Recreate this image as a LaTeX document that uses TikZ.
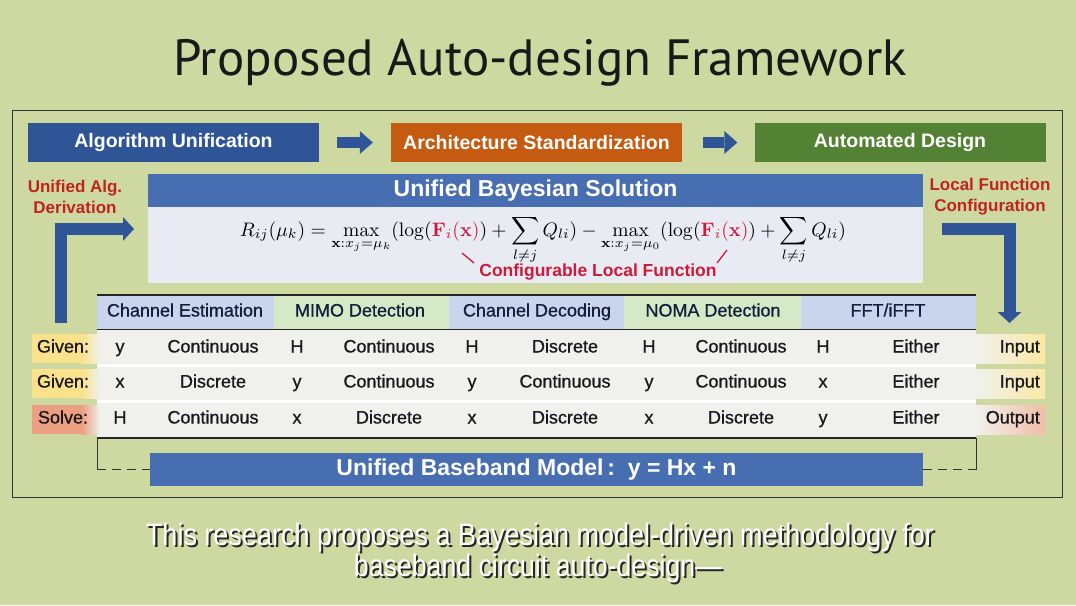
\documentclass[tikz,border=0pt]{standalone}
\usepackage[no-math]{fontspec}
\setmainfont{Liberation Sans}
\newfontfamily\titlefont{PT Sans}
\newfontfamily\medfont[FakeBold=0.8]{Liberation Sans}
\usepackage{graphicx}
\usetikzlibrary{arrows.meta,calc}
\definecolor{bg}{RGB}{206,216,161}
\definecolor{dblue}{RGB}{47,85,151}
\definecolor{orng}{RGB}{197,90,17}
\definecolor{grn}{RGB}{84,130,53}
\definecolor{mblue}{RGB}{72,110,178}
\definecolor{lgray}{RGB}{232,236,242}
\definecolor{hblue}{RGB}{201,213,236}
\definecolor{hgreen}{RGB}{214,233,199}
\definecolor{rowc}{RGB}{240,241,236}
\definecolor{ylw}{RGB}{250,226,140}
\definecolor{slm}{RGB}{236,160,130}
\definecolor{redt}{RGB}{192,36,30}
\definecolor{crim}{RGB}{205,25,60}
\definecolor{txt}{RGB}{25,25,30}
\definecolor{hdtxt}{RGB}{20,30,60}
\begin{document}
\begin{tikzpicture}[x=1pt,y=-1pt,
  topbox/.style={minimum width=291pt,minimum height=39pt,inner sep=0pt,text=white,font=\fontsize{19.5}{22}\selectfont\bfseries},
  bluebar/.style={fill=mblue,minimum width=775pt,inner sep=0pt,text=white,font=\fontsize{23}{26}\selectfont\bfseries},
  fatarrow/.style={draw=dblue,line width=11pt,-{Triangle[width=23pt,length=13pt,line width=0pt]}},
  elbow/.style={draw=dblue,line width=12pt,line join=miter,-{Triangle[width=24pt,length=11pt,line width=0pt]}},
  redlab/.style={text=redt,align=center,font=\fontsize{17}{21}\selectfont\bfseries},
  hdr/.style={text=hdtxt,text height=13pt,text depth=4pt,inner sep=0pt,font=\medfont\fontsize{18}{21}\selectfont},
  cell/.style={text=txt,text height=13pt,text depth=4pt,inner sep=0pt,font=\medfont\fontsize{18}{21}\selectfont},
  lab/.style={text=txt,text height=13pt,text depth=4pt,inner sep=0pt,font=\medfont\fontsize{18}{21}\selectfont},
  frameline/.style={draw=black!85,line width=1.1pt},
  capt/.style={text=white,font=\fontsize{31}{34}\selectfont},
  captsh/.style={text=black!85,font=\fontsize{31}{34}\selectfont}]
\useasboundingbox (0,0) rectangle (1076,605);
\fill[bg] (0,0) rectangle (1076,605);

% title
\node[font=\titlefont\fontsize{51}{58}\selectfont,text=black!90] (title) at (540,63) {Proposed Auto-design Framework};

% outer frame
\draw[black!80,line width=1pt] (12,110) rectangle (1062,497);

% top boxes
\node[topbox,fill=dblue] (alg) at (173.5,142.5) {Algorithm Unification};
\node[topbox,fill=orng] (arch) at (536.5,142.5) {Architecture Standardization};
\node[topbox,fill=grn] (auto) at (900,142.5) {Automated Design};
\draw[fatarrow,shorten <=18pt,shorten >=18pt] (alg) -- (arch);
\draw[fatarrow,shorten <=21pt,shorten >=17pt] (arch) -- (auto);

% Bayesian solution
\node[bluebar,minimum height=33pt] (bay) at (535.5,190.5) {Unified Bayesian Solution};
\node[fill=lgray,minimum width=775pt,minimum height=76pt,inner sep=0pt] (fbox) at (535.5,245) {};
\node[anchor=base,inner sep=0pt] (formula) at (543,236) {\resizebox{606pt}{!}{$\displaystyle R_{ij}(\mu_k)=\max_{\mathbf{x}:x_j=\mu_k}(\log(\textcolor{crim}{\mathbf{F}_i(\mathbf{x})})+\sum_{l\neq j}Q_{li})-\max_{\mathbf{x}:x_j=\mu_0}(\log(\textcolor{crim}{\mathbf{F}_i(\mathbf{x})})+\sum_{l\neq j}Q_{li})$}};
\node[text=crim,font=\fontsize{17.5}{20}\selectfont\bfseries,inner sep=0pt] (clf) at (598,272) {Configurable Local Function};
\coordinate (fl) at (462,253);
\coordinate (fr) at (727,250);
\draw[crim,line width=1.3pt] (fl) -- (474,263);
\draw[crim,line width=1.3pt] (fr) -- (717,263);

% side labels
\node[redlab] (ual) at (75,197) {Unified Alg.\\Derivation};
\node[redlab] (lfc) at (990,197) {Local Function\\Configuration};
\coordinate (lstart) at (60.5,323);
\coordinate (lend) at (134,229);
\draw[elbow] (lstart) |- (lend);
\coordinate (rstart) at (942,229);
\coordinate (rend) at (1009.5,323);
\draw[elbow] (rstart) -| (rend);

% table header
\fill[hblue] (97,295) rectangle (274,329);
\fill[hgreen] (274,295) rectangle (449,329);
\fill[hblue] (449,295) rectangle (624,329);
\fill[hgreen] (624,295) rectangle (801,329);
\fill[hblue] (801,295) rectangle (976,329);
\node[hdr] (h1) at (185,312) {Channel Estimation};
\node[hdr] (h2) at (360,312) {MIMO Detection};
\node[hdr] (h3) at (537,312) {Channel Decoding};
\node[hdr] (h4) at (713,312) {NOMA Detection};
\node[hdr] (h5) at (888,312) {FFT/iFFT};
% rows
\fill[rowc] (97,330) rectangle (976,437);
\draw[white,line width=3pt] (97,365.5) -- (976,365.5);
\draw[white,line width=3pt] (97,401) -- (976,401);
\coordinate (tl) at (97,295);
\coordinate (tr) at (976,295);
\coordinate (ml) at (97,329.5);
\coordinate (mr) at (976,329.5);
\coordinate (bl) at (97,438);
\coordinate (br) at (976,438);
\draw[frameline] (tl) -- (tr);
\draw[frameline] (ml) -- (mr);
\draw[frameline] (bl) -- (br);

% row labels
\fill[ylw] (32,334) rectangle (82,363);
\shade[left color=ylw,right color=rowc] (82,334) rectangle (100,363);
\fill[ylw] (32,369) rectangle (82,398);
\shade[left color=ylw,right color=rowc] (82,369) rectangle (100,398);
\fill[slm] (32,405) rectangle (82,434);
\shade[left color=slm,right color=rowc] (82,405) rectangle (100,434);
\shade[left color=rowc,right color=ylw!80!white] (976,334) rectangle (1045,363);
\shade[left color=rowc,right color=ylw!80!white] (976,369) rectangle (1045,398);
\shade[left color=rowc,right color=slm!70!white] (976,405) rectangle (1045,434);
\node[lab] (g1) at (63,348) {Given:};
\node[lab] (g2) at (63,383) {Given:};
\node[lab] (s3) at (63,419) {Solve:};
\node[lab,anchor=east] (i1) at (1040,348) {Input};
\node[lab,anchor=east] (i2) at (1040,383) {Input};
\node[lab,anchor=east] (o3) at (1040,419) {Output};

% cells
\foreach \r/\yy/\a/\b/\c/\d/\e/\f/\g/\h/\i/\j in {
  1/348/y/Continuous/H/Continuous/H/Discrete/H/Continuous/H/Either,
  2/383/x/Discrete/y/Continuous/y/Continuous/y/Continuous/x/Either,
  3/419/H/Continuous/x/Discrete/x/Discrete/x/Discrete/y/Either}{
  \node[cell] (c\r a) at (120,\yy) {\a};
  \node[cell] (c\r b) at (213,\yy) {\b};
  \node[cell] (c\r c) at (297,\yy) {\c};
  \node[cell] (c\r d) at (389,\yy) {\d};
  \node[cell] (c\r e) at (472,\yy) {\e};
  \node[cell] (c\r f) at (565,\yy) {\f};
  \node[cell] (c\r g) at (649,\yy) {\g};
  \node[cell] (c\r h) at (741,\yy) {\h};
  \node[cell] (c\r i) at (823,\yy) {\i};
  \node[cell] (c\r j) at (916,\yy) {\j};
}

% baseband model
\node[bluebar,minimum width=773pt,minimum height=33pt] (bm) at (536.5,469.5) {Unified Baseband Model\,:\ \ y = Hx + n};
\coordinate (dl) at (97,469.5);
\coordinate (dr) at (976,469.5);
\draw[black!80,line width=1pt] (bl) -- (dl);
\draw[black!80,line width=1pt] (br) -- (dr);
\draw[black!80,line width=1.2pt,dash pattern=on 9pt off 6pt] (dl) -- (bm.west);
\draw[black!80,line width=1.2pt,dash pattern=on 9pt off 6pt] (bm.east) -- (dr);

% caption
\node[captsh] at (542,539) {\resizebox{788pt}{\height}{This research proposes a Bayesian model-driven methodology for}};
\node[capt] (cap1) at (540,537) {\resizebox{788pt}{\height}{This research proposes a Bayesian model-driven methodology for}};
\node[captsh] at (540,570) {\resizebox{368pt}{\height}{baseband circuit auto-design---}};
\node[capt] (cap2) at (538,568) {\resizebox{368pt}{\height}{baseband circuit auto-design---}};
\end{tikzpicture}
\end{document}
